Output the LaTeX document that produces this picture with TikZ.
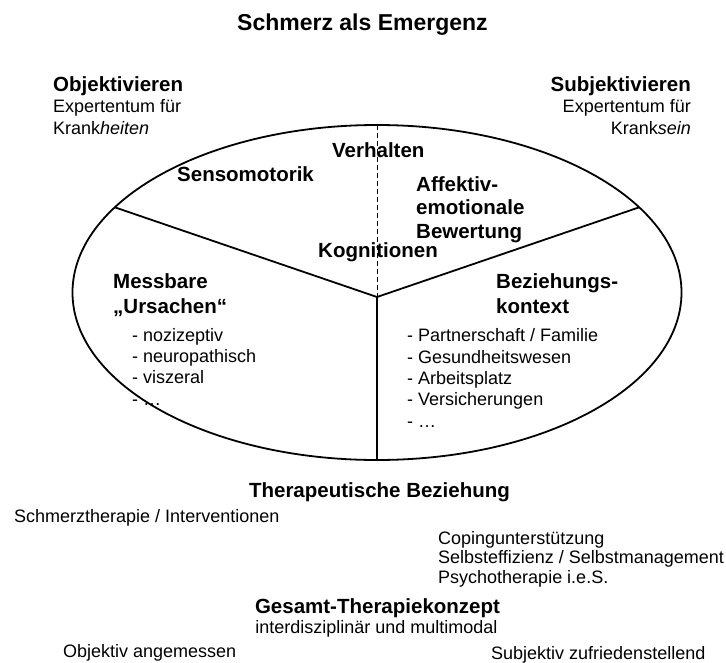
\documentclass[tikz,border=0pt]{standalone}
\usepackage{fontspec}
\setmainfont{Liberation Sans}
\usepackage{tikz}
\usetikzlibrary{shapes.geometric}

\begin{document}
\begin{tikzpicture}[x=1pt, y=-1pt,
  maintitle/.style={font=\fontsize{23}{27}\selectfont\bfseries, inner sep=0pt},
  head/.style={font=\fontsize{20.5}{25}\selectfont\bfseries, inner sep=0pt},
  txt/.style={font=\fontsize{18}{21.3}\selectfont, inner sep=0pt},
  rim/.style={line width=1.8pt}]

\useasboundingbox (0,0) rectangle (726,662);

%---------------------------------------
% Ellipse and sectors
%---------------------------------------
\def\Cx{377}
\def\Cy{292.5}

\node[draw, rim, ellipse, minimum width=609pt, minimum height=335pt,
      inner sep=0pt, outer sep=0pt] (oval) at (\Cx,\Cy) {};
\coordinate (hub) at (377,297);

\draw[rim] (oval.162) -- (hub) -- (oval.18);
\draw[rim] (hub) -- (oval.south);
\draw[dash pattern=on 5pt off 3pt, line width=1pt] (oval.north) -- (hub);

%---------------------------------------
% Title and the two sides
%---------------------------------------
\node[maintitle, anchor=base] (title) at (362.5,30) {Schmerz als Emergenz};

\node[head, anchor=base west] (objHead) at (53,91) {Objektivieren};
\node[txt, anchor=base west, align=left] (objText) at (53,134)
     {Expertentum für\\Krank\textit{heiten}};

\node[head, anchor=base east] (subjHead) at (691,91) {Subjektivieren};
\node[txt, anchor=base east, align=right] (subjText) at (691,134)
     {Expertentum für\\Krank\textit{sein}};

% ---- sector labels (base = last line) ----
\node[head, anchor=base west] (senso) at (177,181) {Sensomotorik};
\node[head, anchor=base west] (verh) at (332,157) {Verhalten};
\node[head, anchor=base west, align=left,
      font=\fontsize{20.5}{23.5}\selectfont\bfseries] (affekt) at (416,238)
     {Affektiv-\\emotionale\\Bewertung};
\node[head, anchor=base west] (kogn) at (318,257) {Kognitionen};

\node[head, anchor=base west, align=left] (messb) at (113,313)
     {Messbare\\„Ursachen“};
\node[txt, anchor=base west, align=left] (ursList) at (132,405)
     {- nozizeptiv\\- neuropathisch\\- viszeral\\- …};

\node[head, anchor=base west, align=left] (bezKon) at (496,313)
     {Beziehungs-\\kontext};
\node[txt, anchor=base west, align=left] (bezList) at (407,427)
     {- Partnerschaft / Familie\\- Gesundheitswesen\\- Arbeitsplatz\\- Versicherungen\\- …};

%---------------------------------------
% Therapy below the ellipse
%---------------------------------------
\node[head, anchor=base] (therBez) at (379.5,497) {Therapeutische Beziehung};
\node[txt, anchor=base west] (schmTher) at (14,522) {Schmerztherapie / Interventionen};
\node[txt, anchor=base west, align=left,
      font=\fontsize{18}{19.5}\selectfont] (coping) at (438,583)
     {Copingunterstützung\\Selbsteffizienz / Selbstmanagement\\Psychotherapie i.e.S.};

\node[head, anchor=base] (gesamt) at (377.5,613) {Gesamt-Therapiekonzept};
\node[txt, anchor=base] (interd) at (376.5,633) {interdisziplinär und multimodal};
\node[txt, anchor=base west] (objAng) at (63,657) {Objektiv angemessen};
\node[txt, anchor=base west] (subjZuf) at (491,659) {Subjektiv zufriedenstellend};

\end{tikzpicture}
\end{document}
